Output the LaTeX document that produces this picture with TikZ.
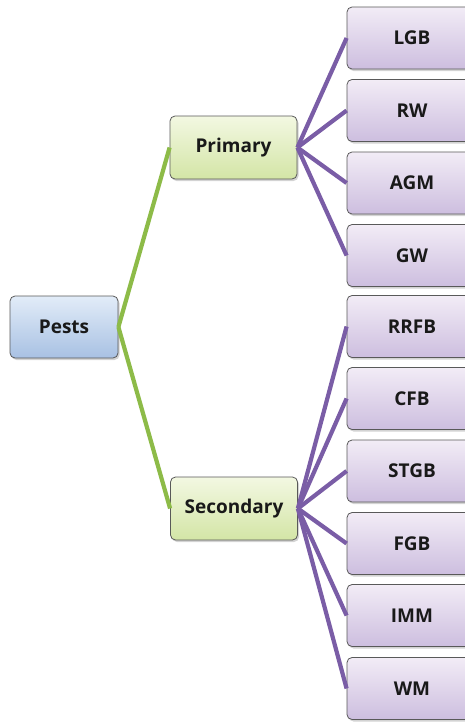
\documentclass[tikz,border=0pt]{standalone}
\usepackage{fontspec}
\setmainfont{Open Sans}
\usetikzlibrary{shadows}

\definecolor{rootTop}{HTML}{E2ECF8}
\definecolor{rootBot}{HTML}{A8C1E3}
\definecolor{midTop}{HTML}{F3F8E2}
\definecolor{midBot}{HTML}{D3E5A6}
\definecolor{leafTop}{HTML}{F2ECF6}
\definecolor{leafBot}{HTML}{CDBEDF}
\definecolor{greenLine}{HTML}{8DBB48}
\definecolor{purpleLine}{HTML}{7A5DA6}

\tikzset{
  box/.style={rectangle, rounded corners=5pt, draw=black!65, line width=0.8pt,
              font=\fontsize{19}{22}\selectfont\bfseries, text=black!90,
              drop shadow={shadow xshift=1.5pt, shadow yshift=-2pt, opacity=0.35}},
  rootbox/.style={box, top color=rootTop, bottom color=rootBot,
                  minimum width=108pt, minimum height=62pt},
  midbox/.style={box, top color=midTop, bottom color=midBot,
                 minimum width=127pt, minimum height=63pt},
  leafbox/.style={box, top color=leafTop, bottom color=leafBot,
                  minimum width=130pt, minimum height=62pt},
}

\begin{document}
\begin{tikzpicture}[x=1pt, y=-1pt]
\useasboundingbox (0,0) rectangle (465,723);
\clip (0,0) rectangle (465,723);

% levels of the tree
\node[rootbox] (pests) at (64,327) {Pests};
\node[midbox] (prim) at (233.5,147.5) {Primary};
\node[midbox] (sec) at (234,508.5) {Secondary};

\begin{scope}[every node/.style={leafbox}]
    \node (lgb)  at (412,38)    {LGB};
    \node (rw)   at (412,110.5) {RW};
    \node (agm)  at (412,183)   {AGM};
    \node (gw)   at (412,255.5) {GW};
    \node (rrfb) at (412,326.5) {RRFB};
    \node (cfb)  at (412,398.5) {CFB};
    \node (stgb) at (412,471)   {STGB};
    \node (fgb)  at (412,543.5) {FGB};
    \node (imm)  at (412,615.5) {IMM};
    \node (wm)   at (412,688.5) {WM};
\end{scope}

% connectors
\begin{scope}[every edge/.style={draw=greenLine, line width=4.2pt}]
    \path (pests.east) edge (prim.west);
    \path (pests.east) edge (sec.west);
\end{scope}

\begin{scope}[every edge/.style={draw=purpleLine, line width=4.2pt}]
    \path (prim.east) edge (lgb.west);
    \path (prim.east) edge (rw.west);
    \path (prim.east) edge (agm.west);
    \path (prim.east) edge (gw.west);
    \path (sec.east) edge (rrfb.west);
    \path (sec.east) edge (cfb.west);
    \path (sec.east) edge (stgb.west);
    \path (sec.east) edge (fgb.west);
    \path (sec.east) edge (imm.west);
    \path (sec.east) edge (wm.west);
\end{scope}
\end{tikzpicture}
\end{document}
